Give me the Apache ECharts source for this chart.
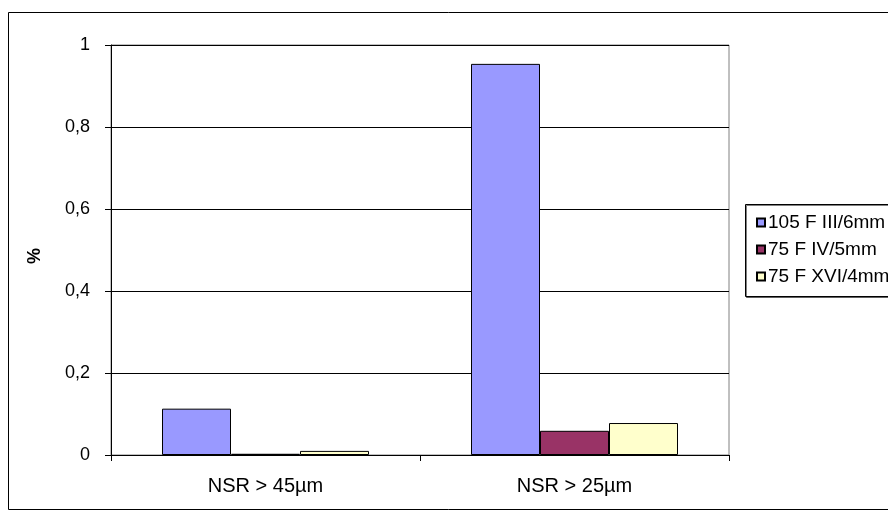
<!DOCTYPE html>
<html>
<head>
<meta charset="utf-8">
<script src="https://cdn.jsdelivr.net/npm/echarts@6/dist/echarts.min.js"></script>
<style>
  html, body { margin: 0; padding: 0; background: #fff; }
  #chart { width: 888px; height: 516px; }
</style>
</head>
<body>
<div id="chart"></div>
<script>
// Categories and series values
const categories = ['NSR > 45µm', 'NSR > 25µm'];
const seriesNames = ['105 F III/6mm', '75 F IV/5mm', '75 F XVI/4mm'];
const values105 = [0.113, 0.954];
const values75IV = [0.003, 0.059];
const values75XVI = [0.010, 0.078];
const seriesColors = ['#9999FF', '#993366', '#FFFFCC'];
const yTicks = [0, 0.2, 0.4, 0.6, 0.8, 1];

const font = '"Liberation Sans", Arial, sans-serif';
const chart = echarts.init(document.getElementById('chart'), null, { renderer: 'canvas' });

const seriesValues = [values105, values75IV, values75XVI];

chart.setOption({
  animation: false,
  backgroundColor: '#fff',
  textStyle: { fontFamily: font },
  graphic: [
    // outer chart frame
    { type: 'rect', shape: { x: 8.5, y: 12.5, width: 900, height: 497 },
      style: { fill: 'none', stroke: '#000', lineWidth: 1 }, z: -1 },
    // legend frame
    { type: 'rect', shape: { x: 745.5, y: 204.5, width: 200, height: 92 },
      style: { fill: '#fff', stroke: '#000', lineWidth: 1, shadowColor: 'rgba(0,0,0,0.5)', shadowOffsetX: 1, shadowOffsetY: 1 }, z: 0 },
    // y axis name
    { type: 'text', x: 26, y: 264, rotation: Math.PI / 2,
      style: { text: '%', font: 'bold 18px ' + font, fill: '#000' } }
  ],
  legend: {
    orient: 'vertical',
    left: 751, top: 208,
    itemWidth: 8, itemHeight: 8, itemGap: 8,
    icon: 'rect',
    textStyle: { fontSize: 19, color: '#000', fontFamily: font, padding: [0, 0, 0, -2] },
    data: seriesNames
  },
  grid: {
    left: 111, top: 45, width: 618, height: 410,
    show: true, borderColor: '#808080', borderWidth: 1
  },
  xAxis: {
    type: 'category',
    data: categories,
    axisLine: { lineStyle: { color: '#000' } },
    axisTick: { show: true, alignWithLabel: false, length: 6, lineStyle: { color: '#000' } },
    axisLabel: { color: '#000', fontSize: 20, margin: 21, fontFamily: font }
  },
  yAxis: {
    type: 'value',
    min: yTicks[0], max: yTicks[yTicks.length - 1], interval: 0.2,
    axisLine: { show: true, lineStyle: { color: '#000' } },
    axisTick: { show: true, length: 6, lineStyle: { color: '#000' } },
    axisLabel: { color: '#000', fontSize: 18, margin: 21, fontFamily: font,
      formatter: v => String(Math.round(v * 10) / 10).replace('.', ',') },
    splitLine: { show: true, lineStyle: { color: '#000', width: 1 } }
  },
  series: seriesNames.map((name, i) => ({
    name: name,
    type: 'bar',
    data: seriesValues[i],
    barWidth: 69,
    barGap: '0%',
    itemStyle: { color: seriesColors[i], borderColor: '#000', borderWidth: 1 }
  }))
});
</script>
</body>
</html>
